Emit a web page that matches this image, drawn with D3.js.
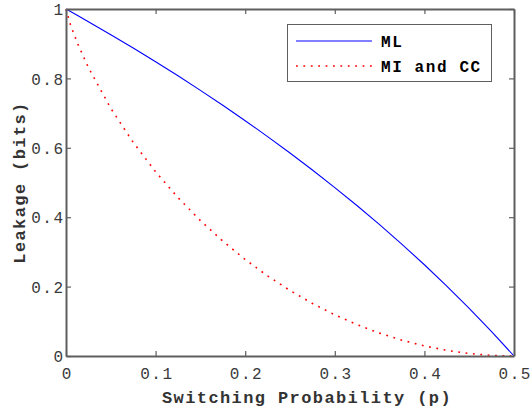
<!DOCTYPE html>
<html><head><meta charset="utf-8">
<script src="https://cdn.jsdelivr.net/npm/d3@7"></script>
<style>body{margin:0;background:#fff}svg{display:block}</style>
</head><body>
<script>
const pValues = [0,0.005,0.0125,0.025,0.05,0.075,0.1,0.125,0.15,0.175,0.2,0.225,0.25,0.275,0.3,0.325,0.35,0.375,0.4,0.425,0.45,0.475,0.5];
const mlValues = [1,0.9928,0.9819,0.9635,0.9260,0.8875,0.8480,0.8074,0.7655,0.7225,0.6781,0.6323,0.5850,0.5361,0.4854,0.4330,0.3785,0.3219,0.2630,0.2016,0.1375,0.0704,0];
const miValues = [1,0.9546,0.9031,0.8313,0.7136,0.6157,0.5310,0.4564,0.3902,0.3310,0.2781,0.2308,0.1887,0.1515,0.1187,0.0903,0.0659,0.0456,0.0290,0.0163,0.0072,0.0018,0];
const xTicks = [0,0.1,0.2,0.3,0.4,0.5];
const xTickLabels = ["0","0.1","0.2","0.3","0.4","0.5"];
const yTicks = [0,0.2,0.4,0.6,0.8,1];
const yTickLabels = ["0","0.2","0.4","0.6","0.8","1"];
const seriesNames = ["ML","MI and CC"];

const W=532,H=408;
const L=66,R=514,T=9,B=356;
const svg=d3.select("body").append("svg").attr("width",W).attr("height",H);
const x=d3.scaleLinear().domain([0,0.5]).range([L,R]);
const y=d3.scaleLinear().domain([0,1]).range([B,T]);
const axisColor="#5f5f5f";
const mono="'Liberation Mono','DejaVu Sans Mono',monospace";
const dash="1.8,5.6";

// plot lines
const line=(vals)=>d3.line().x((d,i)=>x(pValues[i])).y(d=>y(d))(vals);
svg.append("path").attr("d",line(miValues)).attr("fill","none").attr("stroke","#ff0000").attr("stroke-width",1.6).attr("stroke-dasharray",dash);
svg.append("path").attr("d",line(mlValues)).attr("fill","none").attr("stroke","#0000ff").attr("stroke-width",1.1);

// axes
const gx=svg.append("g").attr("transform",`translate(0,${B})`).call(d3.axisBottom(x).tickValues(xTicks).tickFormat((d,i)=>xTickLabels[i]).tickSizeInner(-5).tickSizeOuter(0).tickPadding(12));
const gxt=svg.append("g").attr("transform",`translate(0,${T})`).call(d3.axisTop(x).tickValues(xTicks).tickFormat("").tickSizeInner(-5).tickSizeOuter(0));
const gy=svg.append("g").attr("transform",`translate(${L},0)`).call(d3.axisLeft(y).tickValues(yTicks).tickFormat((d,i)=>yTickLabels[i]).tickSizeInner(-5).tickSizeOuter(0).tickPadding(1.5));
const gyr=svg.append("g").attr("transform",`translate(${R},0)`).call(d3.axisRight(y).tickValues(yTicks).tickFormat("").tickSizeInner(-5).tickSizeOuter(0));
[gx,gxt,gy,gyr].forEach(g=>{
  g.selectAll("path").attr("stroke",axisColor).attr("stroke-width",2);
  g.selectAll("line").attr("stroke",axisColor).attr("stroke-width",1.2);
  g.selectAll("text").attr("fill","#3a3a3a").style("font-family",mono).style("font-size","16px").style("letter-spacing","1.5px");
});
gy.selectAll("text").attr("dy","0.35em");
gx.selectAll("text").attr("dx","0.75px");

// axis labels
svg.append("text").attr("x",(L+R)/2+17).attr("y",403).attr("text-anchor","middle")
  .style("font-family",mono).style("font-size","17px").style("font-weight","bold").style("letter-spacing","1.4px").attr("fill","#333")
  .text("Switching Probability (p)");
svg.append("text").attr("transform",`translate(25,${(T+B)/2}) rotate(-90)`).attr("text-anchor","middle")
  .style("font-family",mono).style("font-size","17px").style("font-weight","bold").style("letter-spacing","1.4px").attr("fill","#333")
  .text("Leakage (bits)");

// legend
const lg=svg.append("g");
lg.append("rect").attr("x",287.5).attr("y",24.5).attr("width",204).attr("height",57).attr("fill","#fff").attr("stroke",axisColor).attr("stroke-width",1);
const ly=[41,66];
lg.append("line").attr("x1",296).attr("x2",372).attr("y1",ly[0]).attr("y2",ly[0]).attr("stroke","#0000ff").attr("stroke-width",1.1);
lg.append("line").attr("x1",296).attr("x2",372).attr("y1",ly[1]).attr("y2",ly[1]).attr("stroke","#ff0000").attr("stroke-width",1.6).attr("stroke-dasharray",dash);
seriesNames.forEach((n,i)=>{
  lg.append("text").attr("x",381).attr("y",ly[i]).attr("dy","0.35em")
    .style("font-family",mono).style("font-size","16px").style("font-weight","bold").style("letter-spacing","1.6px").attr("fill","#000").text(n);
});
</script>
</body></html>
